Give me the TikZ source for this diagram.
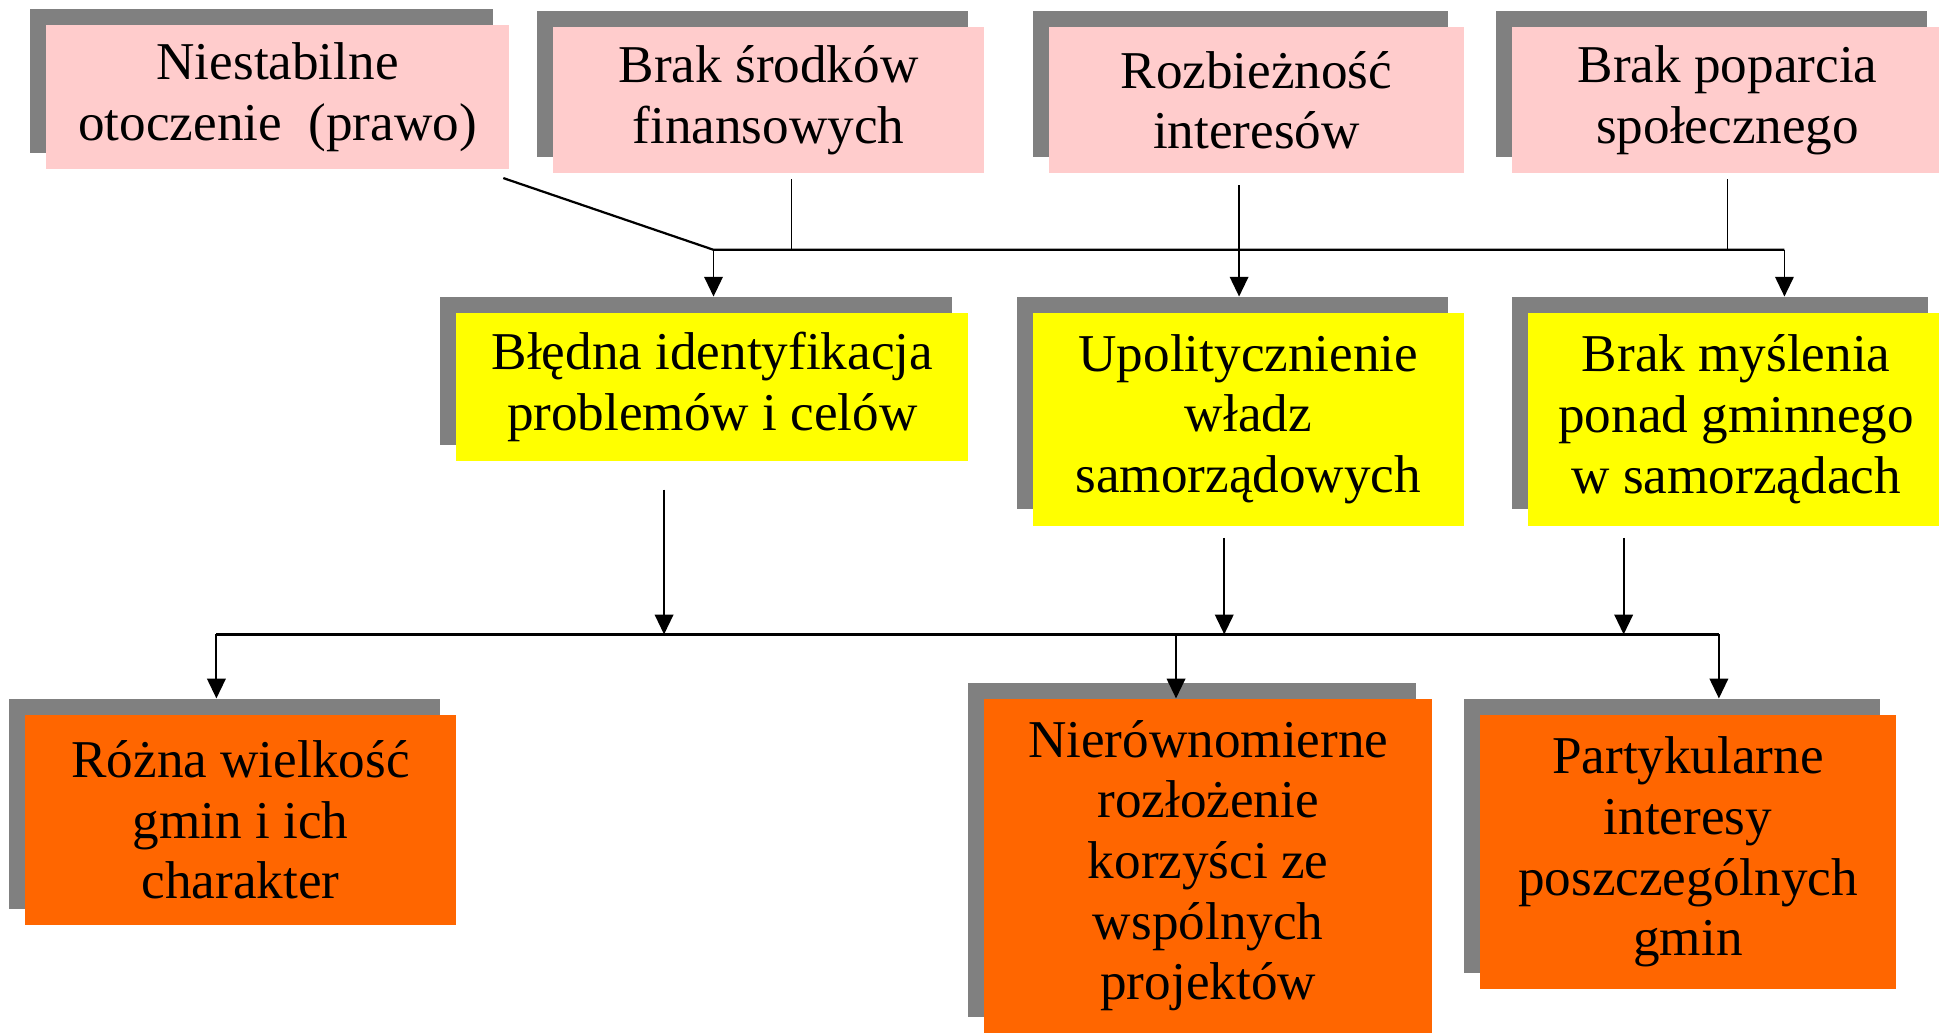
\documentclass[tikz,border=0pt]{standalone}
\usepackage{fontspec}
\setmainfont{Liberation Serif}
\usetikzlibrary{shadows,arrows.meta}

\definecolor{rozowy}{HTML}{FFCCCC}
\definecolor{zolty}{HTML}{FFFF00}
\definecolor{pomaranczowy}{HTML}{FF6600}
\definecolor{szary}{HTML}{808080}

\tikzset{ramka/.style = {fill = #1, align = center, inner sep = 0pt,
                         font = \fontsize{43}{49}\selectfont,
                         general shadow = {fill = szary, shadow xshift = -13pt, shadow yshift = 13pt}},
         ramka/.default = rozowy,
         strzalka/.style = {line width = 1.5pt, -{Triangle[length = 16pt, width = 15pt]}},
         linia/.style = {line width = 1.5pt},
         szyna/.style = {line width = 1.8pt},
         docienia/.style = {shorten >= 13pt}
        }

\begin{document}
\begin{tikzpicture}[x = 1pt, y = 1pt]
  \useasboundingbox (0, 0) rectangle (1568, -836);
  % przyczyny
  \node[ramka = rozowy, minimum width = 375pt, minimum height = 117pt] (n1) at (224.5, -78.5)
      {Niestabilne\\otoczenie \ (prawo)};
  \node[ramka = rozowy, minimum width = 349pt, minimum height = 118pt] (n2) at (621.5, -81)
      {Brak środków\\finansowych};
  \node[ramka = rozowy, minimum width = 336pt, minimum height = 118pt] (n3) at (1016, -81)
      {Rozbieżność\\interesów};
  \node[ramka = rozowy, minimum width = 348pt, minimum height = 118pt] (n4) at (1397, -81)
      {Brak poparcia\\społecznego};
  % problemy
  \node[ramka = zolty, minimum width = 414pt, minimum height = 120pt] (p1) at (576, -313)
      {Błędna identyfikacja\\problemów i celów};
  \node[ramka = zolty, minimum width = 349pt, minimum height = 172pt] (p2) at (1009.5, -339)
      {Upolitycznienie\\władz\\samorządowych};
  \node[ramka = zolty, minimum width = 336pt, minimum height = 172pt] (p3) at (1404, -339)
      {Brak myślenia\\ponad gminnego\\w samorządach};
  % skutki
  \node[ramka = pomaranczowy, minimum width = 349pt, minimum height = 170pt] (s1) at (194.5, -663)
      {Różna wielkość\\gmin i ich\\charakter};
  \node[ramka = pomaranczowy, minimum width = 362pt, minimum height = 270pt] (s2) at (977, -700)
      {Nierównomierne\\rozłożenie\\korzyści ze\\wspólnych\\projektów};
  \node[ramka = pomaranczowy, minimum width = 336pt, minimum height = 222pt] (s3) at (1365, -689)
      {Partykularne\\interesy\\poszczególnych\\gmin};

  % gorna szyna
  \coordinate (a1) at (407, -144);
  \coordinate (b1) at (640, -145);
  \coordinate (c1) at (1002, -150);
  \coordinate (d1) at (1397, -145);
  \coordinate (j1) at (577, -202);
  \coordinate (j2) at (1443, -202);
  \draw[szyna] (a1) -- (j1) -- (j2);
  \draw[linia] (b1) -- (b1 |- j1);
  \draw[linia] (d1) -- (d1 |- j1);
  \draw[strzalka, docienia] (j1) -- (j1 |- p1.north);
  \draw[strzalka, docienia] (c1) -- (c1 |- p2.north);
  \draw[strzalka, docienia] (j2) -- (j2 |- p3.north);

  % dolna szyna
  \coordinate (e1) at (537, -396);
  \coordinate (f1) at (990, -435);
  \coordinate (g1) at (1313, -435);
  \coordinate (k1) at (175, -513);
  \coordinate (k2) at (951, -513);
  \coordinate (k3) at (1390, -513);
  \draw[szyna] (k1) -- (k3);
  \foreach \z in {e1, f1, g1}
      {\draw[strzalka] (\z) -- (\z |- k1);};
  \draw[strzalka, docienia] (k1) -- (k1 |- s1.north);
  \draw[strzalka] (k2) -- (k2 |- s2.north);
  \draw[strzalka, docienia] (k3) -- (k3 |- s3.north);
\end{tikzpicture}
\end{document}
